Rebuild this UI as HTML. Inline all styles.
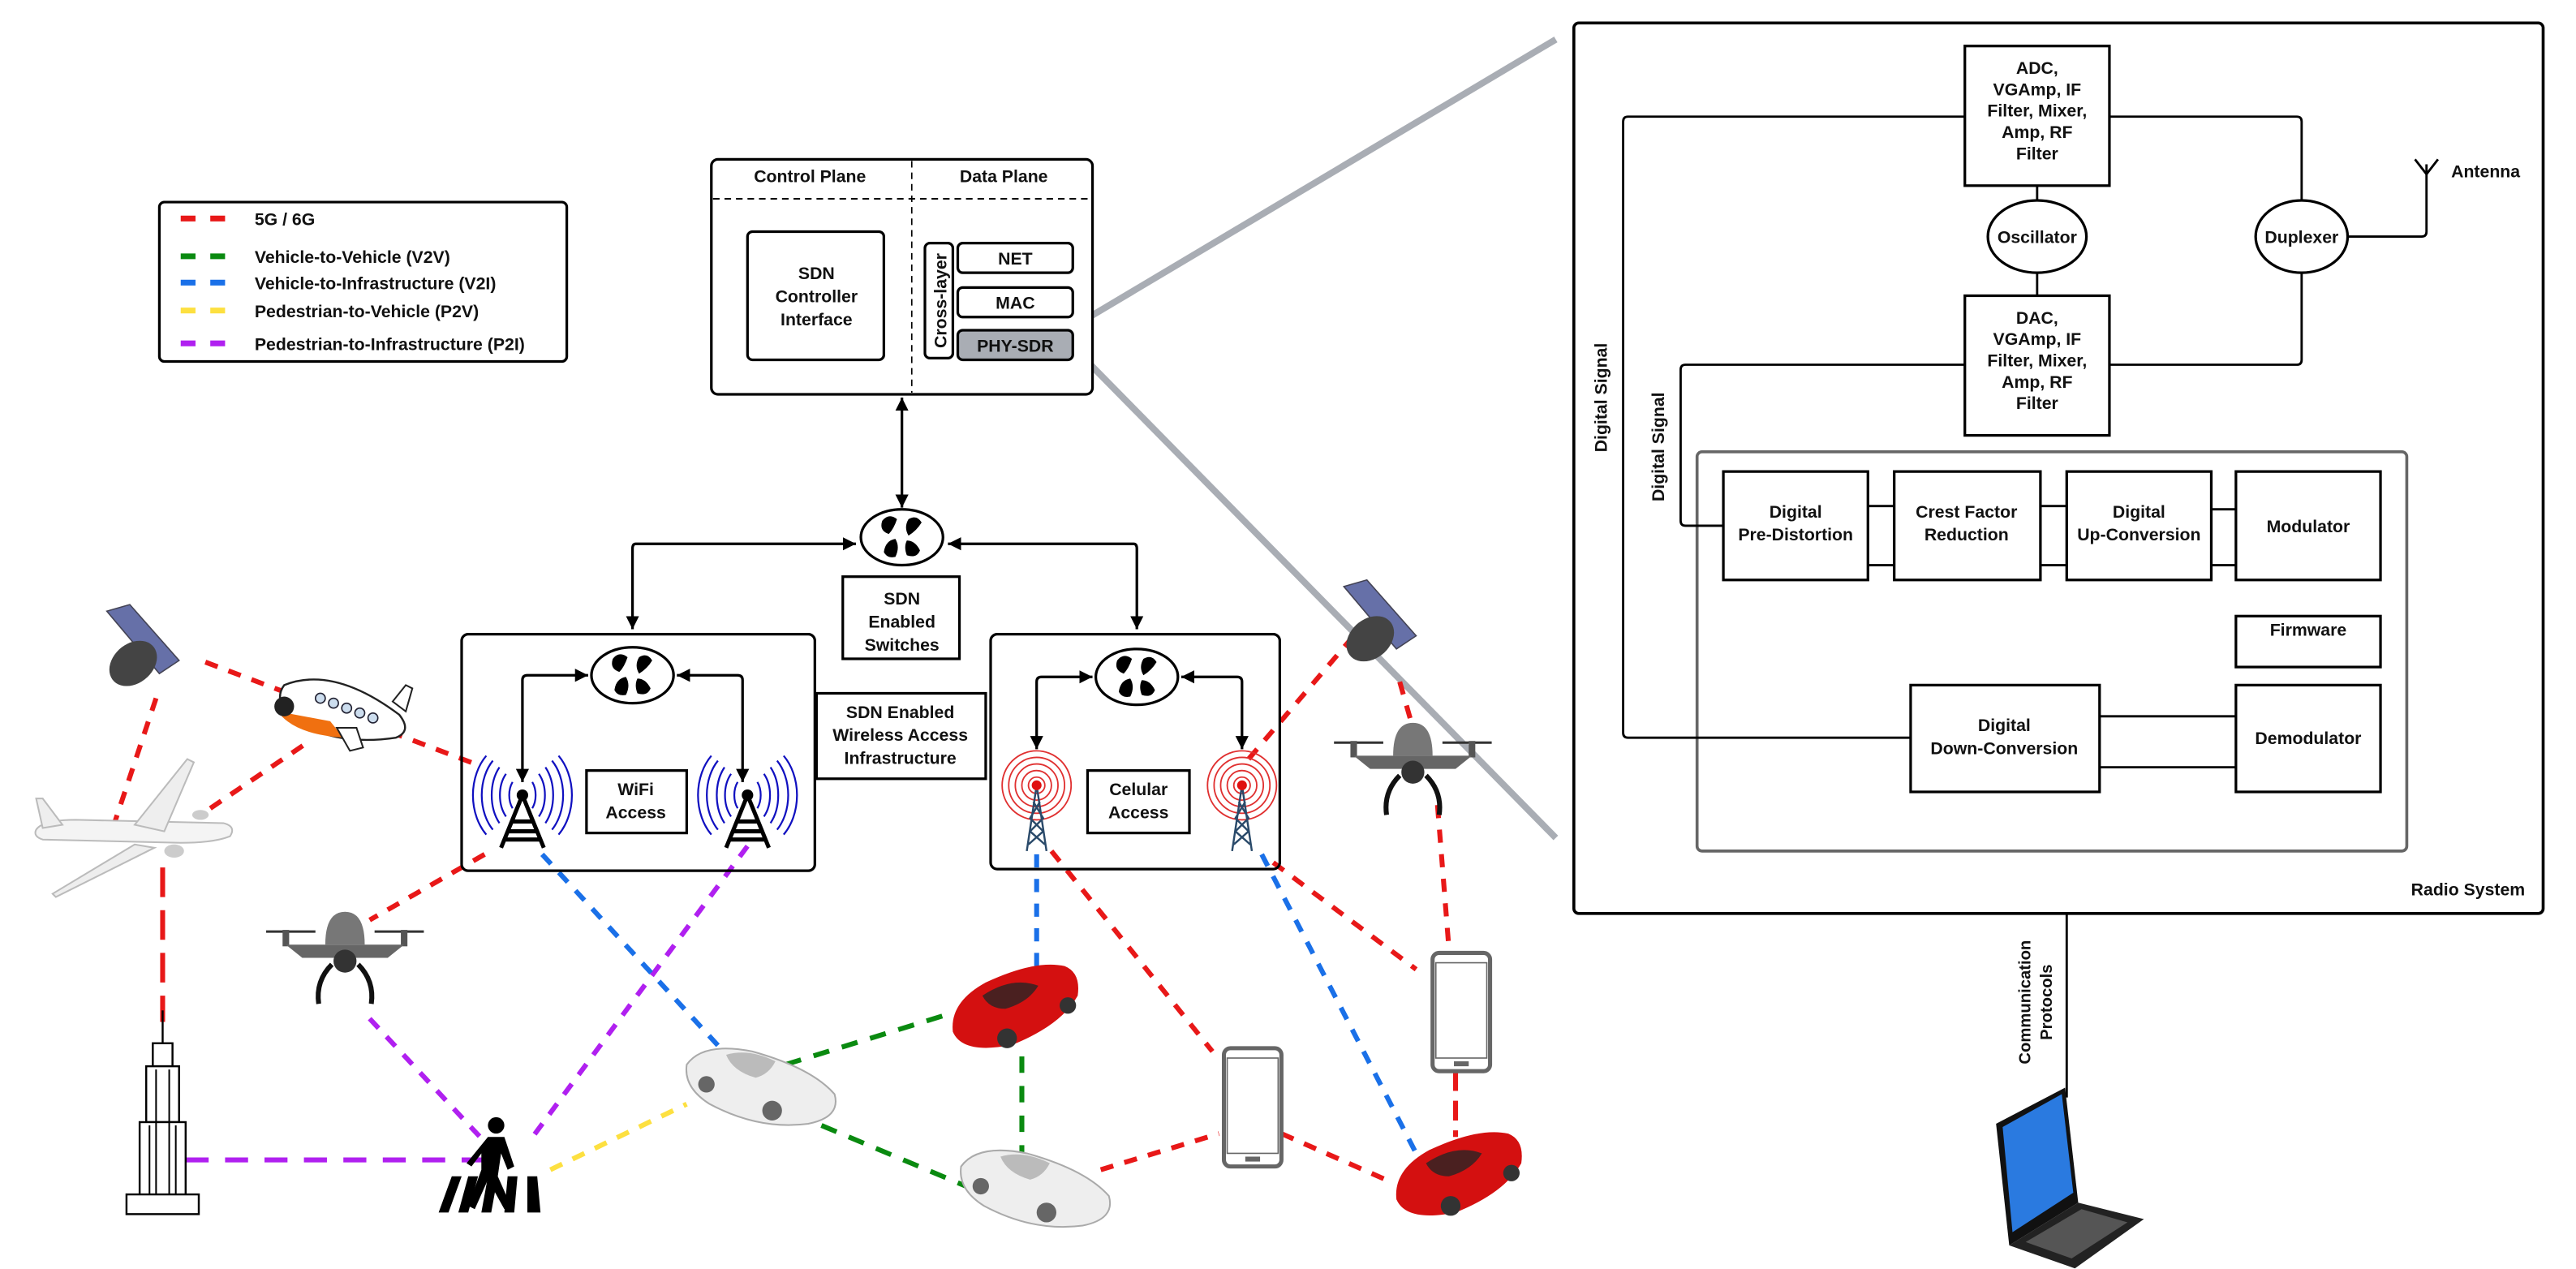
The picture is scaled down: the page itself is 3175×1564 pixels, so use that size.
<!DOCTYPE html>
<html><head><meta charset="utf-8"><style>
html,body{margin:0;padding:0;background:#fff;}
svg{display:block;}
text{font-family:"Liberation Sans",Arial,sans-serif;font-weight:bold;fill:#111;}
</style></head><body>
<svg width="3175" height="1564" viewBox="0 0 1568 772.4" preserveAspectRatio="none" xmlns="http://www.w3.org/2000/svg">
<defs>
<marker id="ah" viewBox="0 0 10 10" refX="10" refY="5" markerWidth="5" markerHeight="5" orient="auto-start-reverse"><path d="M0,0 L10,5 L0,10 z" fill="#000"/></marker>
<g id="sw">
<ellipse cx="0" cy="0" rx="25" ry="17" fill="#fff" stroke="#000" stroke-width="1.6"/>
<path d="M-12,-10 q4,-5 9,-1 q-2,6 -5,9 q-6,-2 -4,-8z M4,-11 q5,-3 8,2 q-3,5 -8,8 q-3,-5 0,-10z M-11,9 q1,-7 7,-8 q3,5 0,11 q-5,1 -7,-3z M3,2 q5,0 8,6 q-2,5 -8,3 q-2,-5 0,-9z" fill="#000"/>
</g>
<g id="wifi" fill="none">
<g stroke="#1010c0" stroke-width="1.1">
<path d="M-6,-8 a8,12 0 0 0 0,16"/><path d="M-10,-13 a12,18 0 0 0 0,26"/><path d="M-14,-17 a16,24 0 0 0 0,34"/><path d="M-18,-21 a20,28 0 0 0 0,42"/><path d="M-22,-24 a24,32 0 0 0 0,48"/>
<path d="M6,-8 a8,12 0 0 1 0,16"/><path d="M10,-13 a12,18 0 0 1 0,26"/><path d="M14,-17 a16,24 0 0 1 0,34"/><path d="M18,-21 a20,28 0 0 1 0,42"/><path d="M22,-24 a24,32 0 0 1 0,48"/>
</g>
<g stroke="#000" stroke-width="2.5"><path d="M0,0 L-13,32 M0,0 L13,32 M-7,16 h14 M-9,22 h18 M-11,27 h22"/></g>
<circle r="3.5" fill="#000"/>
</g>
<g id="cell" fill="none">
<g stroke="#e03030" stroke-width="0.9"><circle r="5"/><circle r="9"/><circle r="13"/><circle r="17"/><circle r="21"/></g>
<g stroke="#2a4a6a" stroke-width="1.2"><path d="M0,0 L-6,40 M0,0 L6,40 M-2,10 L4,20 L-4,28 L5,36 M2,10 L-4,20 L4,28 L-5,36"/></g>
<circle r="3" fill="#e01010"/>
</g>
<g id="redcar">
<path d="M0,30 q-2,-18 20,-30 q30,-14 48,-10 q10,4 8,18 q-10,18 -40,30 q-30,6 -36,-8z" fill="#d41010"/>
<path d="M18,8 q18,-12 34,-6 q-6,10 -20,14 q-10,0 -14,-8z" fill="#4a2020"/>
<circle cx="33" cy="34" r="6" fill="#333"/><circle cx="70" cy="14" r="5" fill="#333"/>
</g>
<g id="whitecar">
<path d="M0,10 q10,-14 40,-8 q36,10 50,26 q4,14 -16,18 q-30,4 -60,-12 q-16,-10 -14,-24z" fill="#eee" stroke="#aaa" stroke-width="1"/>
<path d="M24,4 q14,-4 30,4 q-4,8 -12,10 q-14,-4 -18,-14z" fill="#bbb"/>
<circle cx="12" cy="22" r="5" fill="#666"/><circle cx="52" cy="38" r="6" fill="#666"/>
</g>
<g id="phone">
<rect x="0" y="0" width="35" height="72" rx="4" fill="#fff" stroke="#666" stroke-width="2.5"/>
<rect x="2" y="6" width="31" height="58" fill="#fff" stroke="#666" stroke-width="0.8"/>
<rect x="13" y="66" width="9" height="3" fill="#666"/>
</g>
<g id="drone">
<path d="M-48,0 h30 M18,0 h30" stroke="#333" stroke-width="1.5"/>
<rect x="-38" y="-1" width="4" height="10" fill="#555"/><rect x="34" y="-1" width="4" height="10" fill="#555"/>
<path d="M-36,8 h72 l-10,8 h-52z" fill="#666"/>
<path d="M-12,8 q0,-20 12,-20 q12,0 12,20z" fill="#777"/>
<circle cx="0" cy="18" r="7" fill="#333"/>
<path d="M-8,20 q-10,10 -8,24 M8,20 q10,10 8,24" stroke="#111" stroke-width="3" fill="none"/>
</g>
<g id="sat">
<path d="M0,0 l14,-4 l30,34 l-12,8z" fill="#6670a8" stroke="#445" stroke-width="0.8"/>
<path d="M20,18 a16,12 -40 1 0 0.1,0" fill="#444"/>
</g>
</defs>

<!-- gray zoom lines -->
<line x1="653" y1="199" x2="947" y2="24" stroke="#a9adb4" stroke-width="4"/>
<line x1="653" y1="211" x2="947" y2="510" stroke="#a9adb4" stroke-width="4"/>

<!-- Legend -->
<rect x="97" y="123" width="248" height="97" rx="3" fill="#fff" stroke="#000" stroke-width="1.6"/>
<g stroke-width="3.5" stroke-dasharray="9 9">
<line x1="110" y1="133" x2="138" y2="133" stroke="#e81818"/>
<line x1="110" y1="156" x2="138" y2="156" stroke="#0a8a10"/>
<line x1="110" y1="172" x2="138" y2="172" stroke="#1a70e8"/>
<line x1="110" y1="189" x2="138" y2="189" stroke="#fde040"/>
<line x1="110" y1="209" x2="138" y2="209" stroke="#b020f0"/>
</g>
<g font-size="10.5">
<text x="155" y="137">5G / 6G</text>
<text x="155" y="160">Vehicle-to-Vehicle (V2V)</text>
<text x="155" y="176">Vehicle-to-Infrastructure (V2I)</text>
<text x="155" y="193">Pedestrian-to-Vehicle (P2V)</text>
<text x="155" y="213">Pedestrian-to-Infrastructure (P2I)</text>
</g>

<!-- Top SDN box -->
<rect x="433" y="97" width="232" height="143" rx="4" fill="#fff" stroke="#000" stroke-width="1.6"/>
<line x1="555" y1="98" x2="555" y2="239" stroke="#000" stroke-width="0.8" stroke-dasharray="4 3"/>
<line x1="434" y1="121" x2="664" y2="121" stroke="#000" stroke-width="1" stroke-dasharray="4 3"/>
<text x="493" y="111" font-size="10.5" text-anchor="middle">Control Plane</text>
<text x="611" y="111" font-size="10.5" text-anchor="middle">Data Plane</text>
<rect x="455" y="141" width="83" height="78" rx="3" fill="#fff" stroke="#000" stroke-width="1.6"/>
<text font-size="10.5" text-anchor="middle"><tspan x="497" y="170">SDN</tspan><tspan x="497" y="184">Controller</tspan><tspan x="497" y="198">Interface</tspan></text>
<rect x="563" y="148" width="17" height="70" rx="3" fill="#fff" stroke="#000" stroke-width="1.6"/>
<text transform="translate(576,183) rotate(-90)" font-size="10.5" text-anchor="middle">Cross-layer</text>
<rect x="583" y="148" width="70" height="18" rx="3" fill="#fff" stroke="#000" stroke-width="1.6"/>
<text x="618" y="161" font-size="10.5" text-anchor="middle">NET</text>
<rect x="583" y="175" width="70" height="18" rx="3" fill="#fff" stroke="#000" stroke-width="1.6"/>
<text x="618" y="188" font-size="10.5" text-anchor="middle">MAC</text>
<rect x="583" y="201" width="70" height="18" rx="3" fill="#a9adb4" stroke="#000" stroke-width="1.6"/>
<text x="618" y="214" font-size="10.5" text-anchor="middle">PHY-SDR</text>

<!-- switch arrows -->
<g stroke="#000" stroke-width="1.6" fill="none">
<line x1="549" y1="242" x2="549" y2="309" marker-start="url(#ah)" marker-end="url(#ah)"/>
<path d="M521,331 H387 Q385,331 385,334 V383" marker-start="url(#ah)" marker-end="url(#ah)"/>
<path d="M577,331 H690 Q692,331 692,334 V383" marker-start="url(#ah)" marker-end="url(#ah)"/>
</g>
<use href="#sw" x="549" y="327"/>
<rect x="513" y="351" width="71" height="50" fill="#fff" stroke="#000" stroke-width="1.6"/>
<text font-size="10.5" text-anchor="middle"><tspan x="549" y="368">SDN</tspan><tspan x="549" y="382">Enabled</tspan><tspan x="549" y="396">Switches</tspan></text>

<!-- dashed links (under icons) -->
<g fill="none" stroke-width="3">
<g stroke="#e81818" stroke-dasharray="8 7">
<line x1="125" y1="403" x2="292" y2="466"/>
<line x1="95" y1="425" x2="70" y2="500"/>
<line x1="128" y1="492" x2="190" y2="450"/>
<line x1="295" y1="520" x2="225" y2="560"/>
<line x1="670" y1="712" x2="742" y2="690"/>
<line x1="780" y1="690" x2="848" y2="720"/>
<line x1="640" y1="518" x2="738" y2="640"/>
<line x1="775" y1="525" x2="862" y2="590"/>
<line x1="760" y1="462" x2="830" y2="380"/>
<line x1="852" y1="415" x2="862" y2="450"/>
<line x1="875" y1="490" x2="882" y2="578"/>
<line x1="886" y1="652" x2="886" y2="692" stroke-dasharray="12 6"/>
</g>
<line x1="99" y1="528" x2="99" y2="622" stroke="#e81818" stroke-dasharray="18 8"/>
<g stroke="#b020f0" stroke-dasharray="8 7">
<line x1="225" y1="620" x2="295" y2="695"/>
<line x1="455" y1="515" x2="322" y2="695"/>
</g>
<line x1="113" y1="706" x2="305" y2="706" stroke="#b020f0" stroke-dasharray="14 10"/>
<g stroke="#1a70e8" stroke-dasharray="8 7">
<line x1="330" y1="520" x2="445" y2="645"/>
<line x1="631" y1="520" x2="631" y2="592"/>
<line x1="768" y1="520" x2="862" y2="702"/>
</g>
<line x1="335" y1="712" x2="418" y2="672" stroke="#fde040" stroke-dasharray="8 7"/>
<g stroke="#0a8a10" stroke-dasharray="10 8">
<line x1="478" y1="648" x2="575" y2="618"/>
<line x1="500" y1="685" x2="588" y2="722"/>
<line x1="622" y1="643" x2="622" y2="702"/>
</g>
</g>

<!-- WiFi box -->
<rect x="281" y="386" width="215" height="144" rx="4" fill="none" stroke="#000" stroke-width="1.6"/>
<use href="#sw" x="385" y="411"/>
<g stroke="#000" stroke-width="1.6" fill="none">
<path d="M358,411 H321 Q318,411 318,414 V476" marker-start="url(#ah)" marker-end="url(#ah)"/>
<path d="M412,411 H449 Q452,411 452,414 V476" marker-start="url(#ah)" marker-end="url(#ah)"/>
</g>
<use href="#wifi" x="318" y="484"/>
<use href="#wifi" x="455" y="484"/>
<rect x="357" y="469" width="61" height="38" fill="#fff" stroke="#000" stroke-width="1.6"/>
<text font-size="10.5" text-anchor="middle"><tspan x="387" y="484">WiFi</tspan><tspan x="387" y="498">Access</tspan></text>

<rect x="497" y="422" width="103" height="52" fill="#fff" stroke="#000" stroke-width="1.6"/>
<text font-size="10.5" text-anchor="middle"><tspan x="548" y="437">SDN Enabled</tspan><tspan x="548" y="451">Wireless Access</tspan><tspan x="548" y="465">Infrastructure</tspan></text>

<!-- Celular box -->
<rect x="603" y="386" width="176" height="143" rx="4" fill="none" stroke="#000" stroke-width="1.6"/>
<use href="#sw" x="692" y="412"/>
<g stroke="#000" stroke-width="1.6" fill="none">
<path d="M665,412 H634 Q631,412 631,415 V456" marker-start="url(#ah)" marker-end="url(#ah)"/>
<path d="M719,412 H753 Q756,412 756,415 V456" marker-start="url(#ah)" marker-end="url(#ah)"/>
</g>
<use href="#cell" x="631" y="478"/>
<use href="#cell" x="756" y="478"/>
<rect x="662" y="469" width="62" height="38" fill="#fff" stroke="#000" stroke-width="1.6"/>
<text font-size="10.5" text-anchor="middle"><tspan x="693" y="484">Celular</tspan><tspan x="693" y="498">Access</tspan></text>

<!-- icons -->
<use href="#sat" x="65" y="372"/>
<use href="#sat" x="818" y="357"/>
<!-- cartoon plane -->
<g transform="translate(165,405)">
<path d="M8,12 q30,-12 70,18 q8,10 -2,14 q-40,6 -66,-14 q-8,-10 -2,-18z" fill="#fff" stroke="#222" stroke-width="1.2"/>
<path d="M4,28 q10,14 40,16 l-8,-10z" fill="#f07010"/>
<circle cx="8" cy="25" r="6" fill="#222"/>
<g fill="#cde" stroke="#223" stroke-width="0.8"><circle cx="30" cy="20" r="3"/><circle cx="38" cy="23" r="3"/><circle cx="46" cy="26" r="3"/><circle cx="54" cy="29" r="3"/><circle cx="62" cy="32" r="3"/></g>
<path d="M40,38 l8,14 l8,-2 l-4,-12z" fill="#fff" stroke="#222"/>
<path d="M74,22 l8,-10 l4,2 l-4,14z" fill="#fff" stroke="#222"/>
</g>
<!-- airliner -->
<g transform="translate(22,460)">
<path d="M0,45 q4,-6 24,-6 l90,2 q8,2 4,8 q-10,4 -30,4 l-84,-2 q-6,-2 -4,-6z" fill="#f4f4f4" stroke="#bbb" stroke-width="1"/>
<path d="M60,42 l32,-40 l4,2 l-18,42z" fill="#eee" stroke="#bbb"/>
<path d="M60,54 l-50,30 l2,2 l60,-30z" fill="#eee" stroke="#bbb"/>
<path d="M4,44 l-4,-18 l4,0 l12,16z" fill="#eee" stroke="#bbb"/>
<ellipse cx="84" cy="58" rx="6" ry="4" fill="#ccc"/><ellipse cx="100" cy="36" rx="5" ry="3" fill="#ccc"/>
</g>
<use href="#drone" x="210" y="567"/>
<use href="#drone" x="860" y="452"/>
<!-- building -->
<g transform="translate(75,615)" fill="#fff" stroke="#000" stroke-width="1.2">
<path d="M24,0 V20"/>
<rect x="18" y="20" width="12" height="14"/>
<rect x="14" y="34" width="20" height="34"/>
<rect x="10" y="68" width="28" height="46"/>
<rect x="2" y="112" width="44" height="12"/>
<path d="M20,36 V112 M28,36 V112 M16,70 V112 M32,70 V112" stroke-width="1"/>
</g>
<!-- pedestrian -->
<g transform="translate(265,680)">
<circle cx="37" cy="5" r="5" fill="#000"/>
<path d="M32,12 h10 l6,18 l-4,2 l-4,-10 l-2,14 l8,18 l-4,2 l-10,-18 l-8,18 l-4,-2 l8,-22 l0,-10 l-6,8 l-3,-2z" fill="#000"/>
<path d="M2,58 l8,-22 h6 l-8,22z M14,58 l6,-22 h6 l-6,22z M28,58 l4,-22 h6 l-4,22z M42,58 l2,-22 h6 l-2,22z M56,58 l0,-22 h6 l2,22z" fill="#000"/>
</g>
<use href="#whitecar" x="418" y="638"/>
<use href="#redcar" x="580" y="598"/>
<use href="#whitecar" x="585" y="700"/>
<use href="#phone" x="745" y="638"/>
<use href="#redcar" x="850" y="700"/>
<use href="#phone" x="872" y="580"/>

<!-- Radio system -->
<rect x="958" y="14" width="590" height="542" rx="3" fill="none" stroke="#000" stroke-width="1.8"/>
<rect x="1033" y="275" width="432" height="243" rx="3" fill="none" stroke="#666" stroke-width="1.8"/>
<g stroke="#000" stroke-width="1.4" fill="none">
<path d="M1196,71 H991 Q988,71 988,74 V446 Q988,449 991,449 H1163"/>
<path d="M1284,71 H1398 Q1401,71 1401,74 V122"/>
<path d="M1196,222 H1026 Q1023,222 1023,225 V317 Q1023,320 1026,320 H1049"/>
<path d="M1284,222 H1398 Q1401,222 1401,219 V166"/>
<path d="M1429,144 H1474 Q1477,144 1477,141 V100"/>
<path d="M1470,97 L1477,106 L1484,97"/>
<line x1="1240" y1="113" x2="1240" y2="122"/>
<line x1="1240" y1="166" x2="1240" y2="180"/>
<path d="M1137,308 H1153 M1137,344 H1153 M1242,308 H1258 M1242,344 H1258 M1346,310 H1361 M1346,344 H1361 M1278,436 H1361 M1278,467 H1361"/>
<line x1="1258" y1="556" x2="1258" y2="668"/>
</g>
<g fill="#fff" stroke="#000" stroke-width="1.6">
<rect x="1196" y="28" width="88" height="85"/>
<rect x="1196" y="180" width="88" height="85"/>
<ellipse cx="1240" cy="144" rx="30" ry="22"/>
<ellipse cx="1401" cy="144" rx="28" ry="22"/>
<rect x="1049" y="287" width="88" height="66"/>
<rect x="1153" y="287" width="89" height="66"/>
<rect x="1258" y="287" width="88" height="66"/>
<rect x="1361" y="287" width="88" height="66"/>
<rect x="1361" y="375" width="88" height="31"/>
<rect x="1163" y="417" width="115" height="65"/>
<rect x="1361" y="417" width="88" height="65"/>
</g>
<g font-size="10.5" text-anchor="middle">
<text><tspan x="1240" y="45">ADC,</tspan><tspan x="1240" y="58">VGAmp, IF</tspan><tspan x="1240" y="71">Filter, Mixer,</tspan><tspan x="1240" y="84">Amp, RF</tspan><tspan x="1240" y="97">Filter</tspan></text>
<text><tspan x="1240" y="197">DAC,</tspan><tspan x="1240" y="210">VGAmp, IF</tspan><tspan x="1240" y="223">Filter, Mixer,</tspan><tspan x="1240" y="236">Amp, RF</tspan><tspan x="1240" y="249">Filter</tspan></text>
<text x="1240" y="148" fill="#333">Oscillator</text>
<text x="1401" y="148" fill="#333">Duplexer</text>
<text><tspan x="1093" y="315">Digital</tspan><tspan x="1093" y="329">Pre-Distortion</tspan></text>
<text><tspan x="1197" y="315">Crest Factor</tspan><tspan x="1197" y="329">Reduction</tspan></text>
<text><tspan x="1302" y="315">Digital</tspan><tspan x="1302" y="329">Up-Conversion</tspan></text>
<text x="1405" y="324">Modulator</text>
<text x="1405" y="387">Firmware</text>
<text><tspan x="1220" y="445">Digital</tspan><tspan x="1220" y="459">Down-Conversion</tspan></text>
<text x="1405" y="453">Demodulator</text>
</g>
<text x="1492" y="108" font-size="10.5" fill="#333">Antenna</text>
<text x="1537" y="545" font-size="10.5" text-anchor="end">Radio System</text>
<text transform="translate(978,242) rotate(-90)" font-size="10.5" text-anchor="middle" fill="#333">Digital Signal</text>
<text transform="translate(1013,272) rotate(-90)" font-size="10.5" text-anchor="middle" fill="#333">Digital Signal</text>
<text transform="translate(1236,610) rotate(-90)" font-size="10" text-anchor="middle">Communication</text>
<text transform="translate(1249,610) rotate(-90)" font-size="10" text-anchor="middle">Protocols</text>
<!-- laptop -->
<g transform="translate(1215,662)">
<path d="M0,22 L42,0 L50,70 L8,96z" fill="#111"/>
<path d="M4,24 L40,4 L47,64 L10,88z" fill="#2a7ae0"/>
<path d="M8,96 L50,70 L90,80 L48,110z" fill="#222"/>
<path d="M18,94 L52,74 L80,82 L46,104z" fill="#555"/>
</g>
</svg>
</body></html>
